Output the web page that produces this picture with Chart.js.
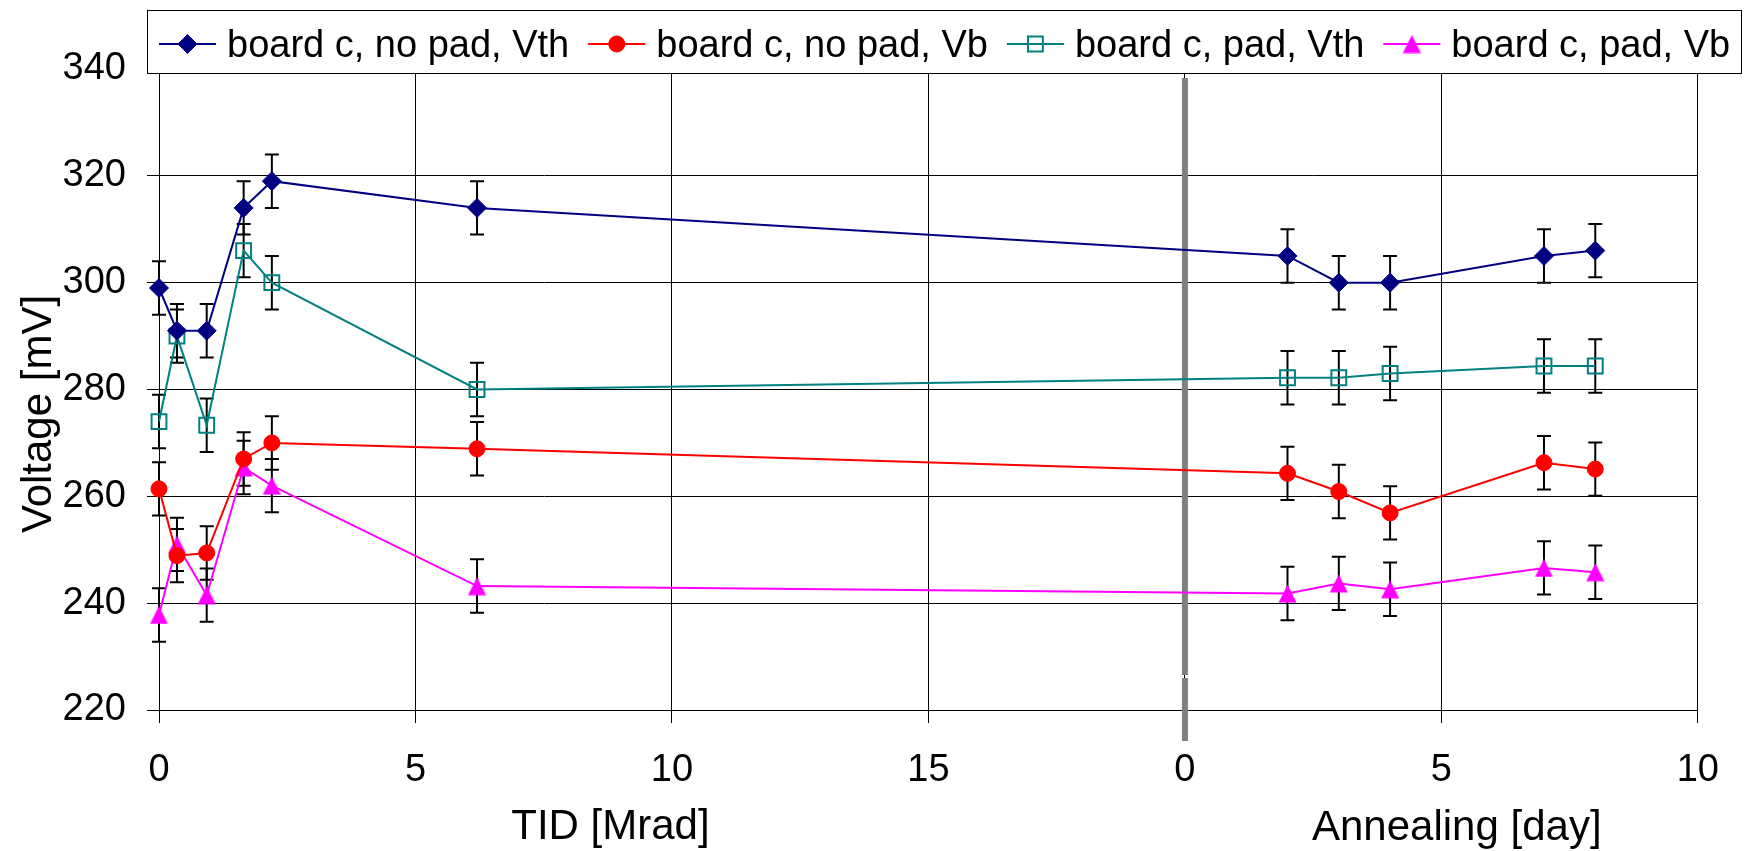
<!DOCTYPE html>
<html>
<head>
<meta charset="utf-8">
<title>Threshold and baseline voltage vs TID and annealing</title>
<script src="https://cdn.jsdelivr.net/npm/chart.js@4/dist/chart.umd.min.js"></script>
<style>
  html, body { margin: 0; padding: 0; background: #fff; }
  canvas { display: block; }
</style>
</head>
<body>
<canvas id="chart" width="1744" height="851"></canvas>
<script>
// irradiation steps [Mrad] and annealing days
const tidDose = [0, 0.35, 0.93, 1.65, 2.2, 6.2];
const annealDays = [2, 3, 4, 7, 8];
const annealStart = 20; // annealing day 0 sits here on the shared x axis

// measured voltages [mV], irradiation points first, then annealing
const vthNoPad = [299, 291, 291, 314, 319, 314, 305, 300, 300, 305, 306];
const vbNoPad = [261.4, 248.9, 249.4, 267, 270, 268.9, 264.3, 260.9, 256.9, 266.3, 265.1];
const vthPad = [274, 290, 273.3, 306, 300, 280, 282.2, 282.2, 283, 284.4, 284.4];
const vbPad = [237.8, 251, 241.5, 265.4, 262, 243.2, 241.8, 243.7, 242.6, 246.6, 245.8];
const errMv = 5;

const xTickLabels = ['0', '5', '10', '15', '0', '5', '10'];
const yMin = 220;
const yMax = 340;
const yStep = 20;

const FONT = '"Liberation Sans", Arial, Helvetica, sans-serif';

const xPos = tidDose.concat(annealDays.map((d) => annealStart + d));
const toPoints = (vals) => vals.map((v, i) => ({ x: xPos[i], y: v }));

// a slightly tall triangle, centred on its box like the spreadsheet marker
function makeTriangle(color) {
  const c = document.createElement('canvas');
  c.width = 19;
  c.height = 19;
  const g = c.getContext('2d');
  g.fillStyle = color;
  g.beginPath();
  g.moveTo(9.5, 0.5);
  g.lineTo(18.5, 18.5);
  g.lineTo(0.5, 18.5);
  g.closePath();
  g.fill();
  return c;
}

const series = [
  { label: 'board c, no pad, Vth', values: vthNoPad, color: '#000080', fill: '#000080', style: 'rectRot', radius: 9.5, bw: 1 },
  { label: 'board c, no pad, Vb', values: vbNoPad, color: '#ff0000', fill: '#ff0000', style: 'circle', radius: 8, bw: 1 },
  { label: 'board c, pad, Vth', values: vthPad, color: '#008080', fill: 'rgba(0,0,0,0)', style: 'rect', radius: 10.5, bw: 2 },
  { label: 'board c, pad, Vb', values: vbPad, color: '#ff00ff', fill: '#ff00ff', style: makeTriangle('#ff00ff'), radius: 10, bw: 1 },
];

// separator bar, error bars, legend box and axis titles
const extrasPlugin = {
  id: 'extras',
  beforeDatasetsDraw(chart) {
    const { ctx, chartArea, scales: { x, y } } = chart;
    const bx = x.getPixelForValue(annealStart);
    ctx.save();
    ctx.fillStyle = '#808080';
    ctx.fillRect(bx - 3, chartArea.top + 9, 6, chartArea.bottom - chartArea.top - 44);
    ctx.fillRect(bx - 3, chartArea.bottom - 32, 6, 63);

    ctx.strokeStyle = '#000';
    ctx.lineWidth = 2;
    chart.data.datasets.forEach((ds) => {
      ds.data.forEach((p) => {
        const px = x.getPixelForValue(p.x);
        const top = y.getPixelForValue(p.y + errMv);
        const bot = y.getPixelForValue(p.y - errMv);
        ctx.beginPath();
        ctx.moveTo(px, top);
        ctx.lineTo(px, bot);
        ctx.moveTo(px - 7, top);
        ctx.lineTo(px + 7, top);
        ctx.moveTo(px - 7, bot);
        ctx.lineTo(px + 7, bot);
        ctx.stroke();
      });
    });
    ctx.restore();
  },
  afterDraw(chart) {
    const { ctx, scales: { x } } = chart;
    ctx.save();

    // legend
    ctx.fillStyle = '#fff';
    ctx.fillRect(147, 10, 1594, 63);
    ctx.strokeStyle = '#000';
    ctx.lineWidth = 1;
    ctx.strokeRect(147.5, 10.5, 1594, 63);

    ctx.font = '38px ' + FONT;
    ctx.textBaseline = 'alphabetic';
    ctx.textAlign = 'left';
    let lx = 159;
    series.forEach((s) => {
      ctx.strokeStyle = s.color;
      ctx.lineWidth = 2;
      ctx.beginPath();
      ctx.moveTo(lx, 44);
      ctx.lineTo(lx + 57, 44);
      ctx.stroke();

      ctx.fillStyle = s.fill;
      ctx.lineWidth = s.bw;
      Chart.helpers.drawPoint(ctx, { pointStyle: s.style, radius: s.radius, rotation: 0, borderWidth: s.bw }, lx + 28.5, 44);

      ctx.fillStyle = '#000';
      ctx.fillText(s.label, lx + 68, 57);
      lx += 68 + ctx.measureText(s.label).width + 19;
    });

    // axis titles
    ctx.font = '42px ' + FONT;
    ctx.textAlign = 'center';
    ctx.fillText('TID [Mrad]', x.getPixelForValue(8.8), 839);
    ctx.fillText('Annealing [day]', x.getPixelForValue(25.3), 840);

    ctx.translate(51, 414);
    ctx.rotate(-Math.PI / 2);
    ctx.fillText('Voltage [mV]', 0, 0);
    ctx.restore();
  },
};

new Chart(document.getElementById('chart'), {
  type: 'line',
  data: {
    datasets: series.map((s) => ({
      label: s.label,
      data: toPoints(s.values),
      borderColor: s.color,
      backgroundColor: s.fill,
      borderWidth: 2,
      pointStyle: s.style,
      pointRadius: s.radius,
      pointBackgroundColor: s.fill,
      pointBorderColor: s.color,
      pointBorderWidth: s.bw,
      tension: 0,
      fill: false,
      clip: false,
    })),
  },
  options: {
    responsive: false,
    animation: false,
    events: [],
    layout: { padding: { top: 69, right: 35, bottom: 0, left: 0 } },
    plugins: {
      legend: { display: false },
      tooltip: { enabled: false },
    },
    scales: {
      x: {
        type: 'linear',
        min: 0,
        max: 30,
        ticks: {
          stepSize: 5,
          autoSkip: false,
          maxRotation: 0,
          padding: 25,
          color: '#000',
          font: { family: FONT, size: 38 },
          callback: (v, i) => xTickLabels[i],
        },
        grid: { color: '#000', lineWidth: 1, tickLength: 13 },
        border: { color: '#000' },
        afterFit: (scale) => { scale.height = 141; },
      },
      y: {
        min: yMin,
        max: yMax,
        ticks: {
          stepSize: yStep,
          padding: 21,
          color: '#000',
          font: { family: FONT, size: 38 },
        },
        grid: { color: '#000', lineWidth: 1, tickLength: 12 },
        border: { color: '#000' },
        afterFit: (scale) => { scale.width = 159; },
      },
    },
  },
  plugins: [extrasPlugin],
});
</script>
</body>
</html>
